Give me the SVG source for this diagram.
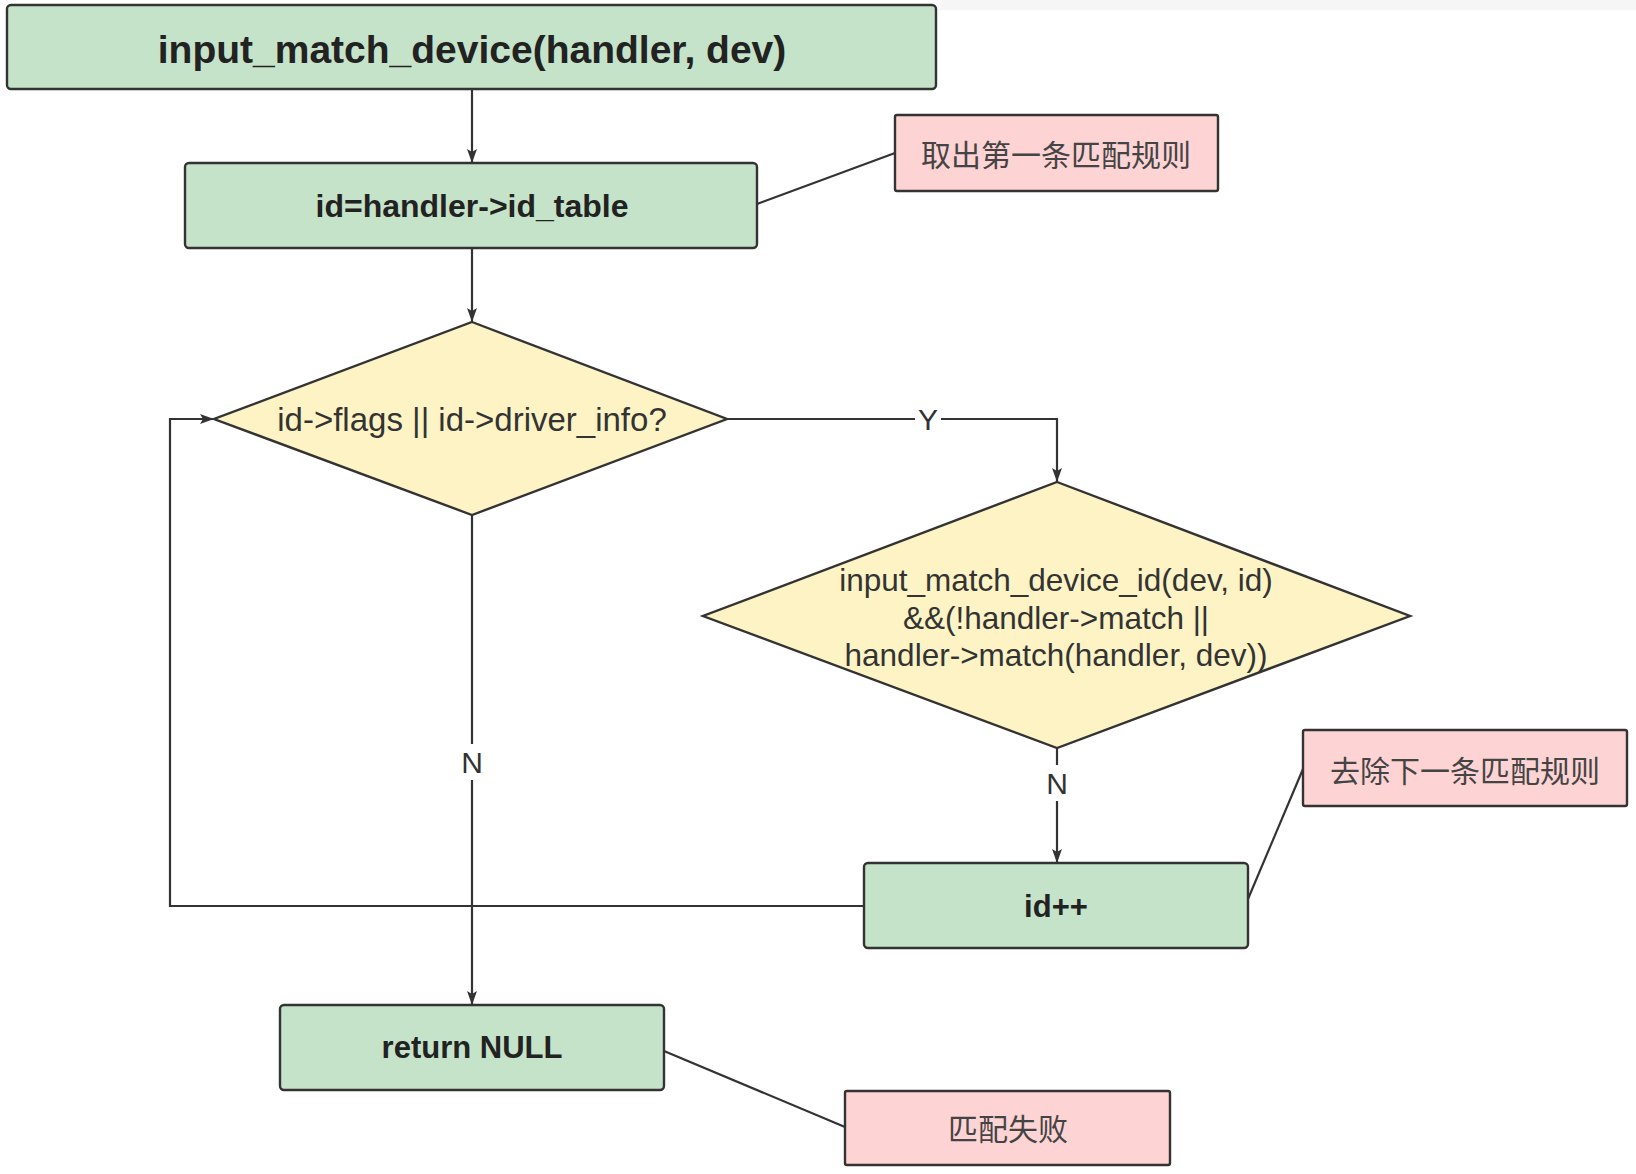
<svg xmlns="http://www.w3.org/2000/svg" width="1636" height="1174" viewBox="0 0 1636 1174">
<style>
.proc{fill:#c5e3c9;stroke:#333;stroke-width:2.4}
.dec{fill:#fdf3c4;stroke:#333;stroke-width:2.4}
.note{fill:#fed3d4;stroke:#333;stroke-width:2.4}
.b{font-family:"Liberation Sans",Arial,sans-serif;font-weight:bold;fill:#222;text-anchor:middle;dominant-baseline:central}
.r{font-family:"Liberation Sans",Arial,sans-serif;fill:#333;text-anchor:middle;dominant-baseline:central}
.cn{font-family:"Noto Sans CJK SC","Noto Sans",sans-serif;fill:#444;font-size:30px;text-anchor:middle;dominant-baseline:central}
.edge{fill:none;stroke:#333;stroke-width:2.2}
.lbl{font-family:"Liberation Sans",Arial,sans-serif;fill:#333;font-size:30px;text-anchor:middle;dominant-baseline:central}
</style>
<defs>
<marker id="ah" viewBox="0 0 14 10" refX="14" refY="5" markerWidth="14" markerHeight="10" markerUnits="userSpaceOnUse" orient="auto">
<path d="M0,0 L14,5 L0,10 L3,5 Z" fill="#333"/>
</marker>
</defs>
<rect x="0" y="0" width="1636" height="1174" fill="#fff"/>
<rect x="940" y="0" width="696" height="10" fill="#f6f6f6"/>

<g id="connectors">
<path class="edge" d="M472,89 V163" marker-end="url(#ah)"/>
<path class="edge" d="M472,248 V322" marker-end="url(#ah)"/>
<path class="edge" d="M727,419 H1057 V482" marker-end="url(#ah)"/>
<path class="edge" d="M472,515 V1005" marker-end="url(#ah)"/>
<path class="edge" d="M1057,748 V863" marker-end="url(#ah)"/>
<path class="edge" d="M864,906 H170 V419 H214" marker-end="url(#ah)"/>
<path class="edge" d="M757,204 L895,153"/>
<path class="edge" d="M1248,899 L1303,769"/>
<path class="edge" d="M664,1051 L845,1127"/>
<rect x="915" y="404" width="26" height="30" fill="#fff"/>
<text class="lbl" x="928" y="419">Y</text>
<rect x="459" y="744" width="26" height="36" fill="#fff"/>
<text class="lbl" x="472" y="762">N</text>
<rect x="1044" y="765" width="26" height="36" fill="#fff"/>
<text class="lbl" x="1057" y="783">N</text>
</g>

<g id="start">
<rect class="proc" x="7" y="5" width="929" height="84" rx="4"/>
<text class="b" x="472" y="49" font-size="39">input_match_device(handler, dev)</text>
</g>
<g id="init">
<rect class="proc" x="185" y="163" width="572" height="85" rx="4"/>
<text class="b" x="472" y="206" font-size="32">id=handler-&gt;id_table</text>
</g>
<g id="note1">
<rect class="note" x="895" y="115" width="323" height="76" rx="2"/>
<text class="cn" x="1056" y="153">取出第一条匹配规则</text>
</g>
<g id="cond1">
<polygon class="dec" points="472,322 727,419 472,515 214,419"/>
<text class="r" x="472" y="419" font-size="33">id-&gt;flags || id-&gt;driver_info?</text>
</g>
<g id="cond2">
<polygon class="dec" points="1057,482 1410,616 1057,748 703,616"/>
<text class="r" x="1056" y="580" font-size="31.5">input_match_device_id(dev, id)</text>
<text class="r" x="1056" y="618" font-size="31.5">&amp;&amp;(!handler-&gt;match ||</text>
<text class="r" x="1056" y="655" font-size="31.5">handler-&gt;match(handler, dev))</text>
</g>
<g id="inc">
<rect class="proc" x="864" y="863" width="384" height="85" rx="4"/>
<text class="b" x="1056" y="906" font-size="31">id++</text>
</g>
<g id="note2">
<rect class="note" x="1303" y="730" width="324" height="76" rx="2"/>
<text class="cn" x="1465" y="769">去除下一条匹配规则</text>
</g>
<g id="ret">
<rect class="proc" x="280" y="1005" width="384" height="85" rx="4"/>
<text class="b" x="472" y="1047" font-size="31">return NULL</text>
</g>
<g id="note3">
<rect class="note" x="845" y="1091" width="325" height="74" rx="2"/>
<text class="cn" x="1008" y="1127">匹配失败</text>
</g>
</svg>
